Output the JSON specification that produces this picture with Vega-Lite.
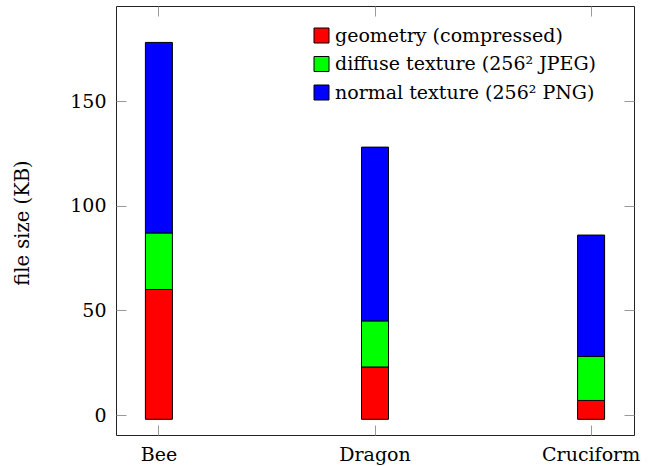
{
  "$schema": "https://vega.github.io/schema/vega-lite/v6.json",
  "width": 518,
  "height": 429,
  "autosize": {"type": "none"},
  "padding": {"left": 116, "top": 6, "right": 18, "bottom": 31},
  "background": "white",
  "config": {
    "view": {"stroke": "#222", "strokeWidth": 1},
    "font": "DejaVu Serif"
  },
  "data": {
    "values": [
      {"model": "Bee", "component": "geometry (compressed)", "low": -2, "high": 60},
      {"model": "Bee", "component": "diffuse texture (256² JPEG)", "low": 60, "high": 87},
      {"model": "Bee", "component": "normal texture (256² PNG)", "low": 87, "high": 178},
      {"model": "Dragon", "component": "geometry (compressed)", "low": -2, "high": 23},
      {"model": "Dragon", "component": "diffuse texture (256² JPEG)", "low": 23, "high": 45},
      {"model": "Dragon", "component": "normal texture (256² PNG)", "low": 45, "high": 128},
      {"model": "Cruciform", "component": "geometry (compressed)", "low": -2, "high": 7},
      {"model": "Cruciform", "component": "diffuse texture (256² JPEG)", "low": 7, "high": 28},
      {"model": "Cruciform", "component": "normal texture (256² PNG)", "low": 28, "high": 86}
    ]
  },
  "layer": [
    {
      "mark": {"type": "bar", "stroke": "black", "strokeWidth": 1, "width": 27},
      "encoding": {
        "x": {
          "field": "model", "type": "nominal", "sort": ["Bee", "Dragon", "Cruciform"],
          "scale": {"paddingInner": 0.875, "paddingOuter": 0.136},
          "axis": {"title": null, "labelAngle": 0, "labelFont": "DejaVu Serif", "labelFontSize": 19, "labelColor": "black", "tickSize": -10, "tickColor": "#999", "tickWidth": 1, "domain": false, "labelPadding": 20, "grid": false}
        },
        "y": {
          "field": "low", "type": "quantitative",
          "scale": {"domain": [-9.5, 195.4], "nice": false, "zero": false},
          "axis": {"values": [0, 50, 100, 150], "grid": false, "domain": false, "tickSize": -10, "tickColor": "#999", "tickWidth": 1, "labelPadding": 20, "labelFont": "DejaVu Serif", "labelFontSize": 19, "labelColor": "black", "title": "file size (KB)", "titleFont": "DejaVu Serif", "titleFontSize": 19.5, "titleFontWeight": "normal", "titleColor": "black", "titleX": -94, "titleY": 216.5, "titleAlign": "center", "titleBaseline": "middle", "titleAngle": -90}
        },
        "y2": {"field": "high"},
        "color": {
          "field": "component", "type": "nominal",
          "scale": {"domain": ["geometry (compressed)", "diffuse texture (256² JPEG)", "normal texture (256² PNG)"], "range": ["#ff0000", "#00ff00", "#0000ff"]},
          "legend": {"title": null, "orient": "none", "legendX": 196, "legendY": 20, "padding": 0, "symbolType": "square", "symbolSize": 225, "symbolStrokeColor": "black", "symbolStrokeWidth": 1, "symbolOpacity": 1, "labelFont": "DejaVu Serif", "labelFontSize": 19, "labelColor": "black", "labelOffset": 4, "rowPadding": 8.5, "labelLimit": 0}
        }
      }
    },
    {
      "mark": {"type": "bar", "opacity": 0},
      "encoding": {
        "x": {
          "field": "model", "type": "nominal", "sort": ["Bee", "Dragon", "Cruciform"],
          "scale": {"paddingInner": 0.875, "paddingOuter": 0.136},
          "axis": {"orient": "top", "title": null, "labels": false, "tickSize": -10, "tickColor": "#999", "tickWidth": 1, "domain": false, "grid": false}
        },
        "y": {
          "field": "low", "type": "quantitative",
          "scale": {"domain": [-9.5, 195.4], "nice": false, "zero": false},
          "axis": {"orient": "right", "values": [0, 50, 100, 150], "title": null, "labels": false, "tickSize": -10, "tickColor": "#999", "tickWidth": 1, "domain": false, "grid": false}
        },
        "y2": {"field": "high"}
      }
    }
  ],
  "resolve": {"scale": {"x": "independent", "y": "independent"}, "axis": {"x": "independent", "y": "independent"}}
}
